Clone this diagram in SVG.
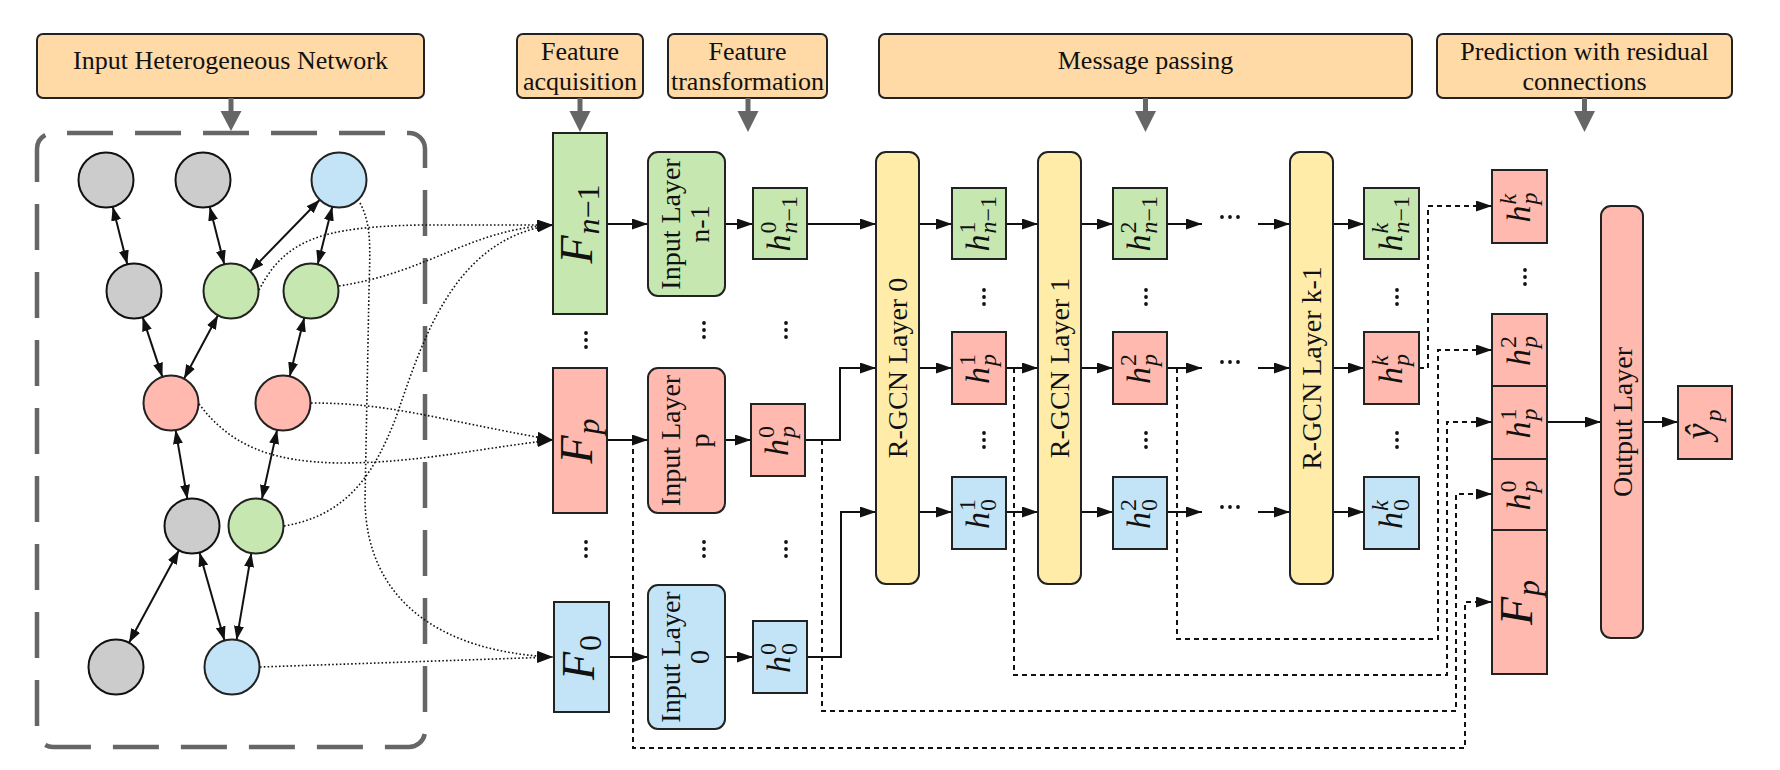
<svg xmlns="http://www.w3.org/2000/svg" width="1780" height="770" viewBox="0 0 1780 770">
<style>
text{font-family:"Liberation Serif","Times New Roman",serif;fill:#111}
.t{font-size:26px;text-anchor:middle}
.r{font-size:28px;text-anchor:middle}
.i{font-style:italic}
.hb{font-style:italic;font-size:34px}
.sc{font-size:24px}
.fb{font-style:italic;font-size:46px}
.fs{font-size:32px}
.title{fill:#FFDAA6;stroke:#222;stroke-width:2}
.gn{fill:#C6E7AF;stroke:#222;stroke-width:2}
.pk{fill:#FFB9AF;stroke:#222;stroke-width:2}
.bl{fill:#C3E4F6;stroke:#222;stroke-width:2}
.ye{fill:#FFECA9;stroke:#222;stroke-width:2}
.gy{fill:#CCCCCC;stroke:#111;stroke-width:2}
.ln{fill:none;stroke:#111;stroke-width:2;marker-end:url(#a)}
.ds{fill:none;stroke:#111;stroke-width:2;stroke-dasharray:5 4}
.dt{fill:none;stroke:#111;stroke-width:1.6;stroke-dasharray:1.6 2.2;marker-end:url(#a)}
.ed{stroke:#111;stroke-width:2;marker-start:url(#s);marker-end:url(#s)}
.ga{fill:#666;stroke:none}
.dot{fill:#111}
</style>
<defs>
<marker id="a" viewBox="0 0 16 11" refX="16" refY="5.5" markerWidth="16" markerHeight="11" markerUnits="userSpaceOnUse" orient="auto"><path d="M0,0L16,5.5L0,11z" fill="#111"/></marker>
<marker id="s" viewBox="0 0 14 10" refX="14" refY="5" markerWidth="14" markerHeight="10" markerUnits="userSpaceOnUse" orient="auto-start-reverse"><path d="M0,0L14,5L0,10z" fill="#111"/></marker>
<g id="vd"><circle cx="0" cy="-7" r="1.9"/><circle cx="0" cy="0" r="1.9"/><circle cx="0" cy="7" r="1.9"/></g>
<g id="hd"><circle cx="-8" cy="0" r="1.9"/><circle cx="0" cy="0" r="1.9"/><circle cx="8" cy="0" r="1.9"/></g>
</defs>

<!-- Title boxes -->
<g id="title-input"><rect class="title" x="37" y="34" width="387" height="64" rx="6"/><text class="t" x="230.5" y="69">Input Heterogeneous Network</text></g>
<g id="title-acq"><rect class="title" x="517" y="34" width="126" height="64" rx="6"/><text class="t" x="580" y="60">Feature</text><text class="t" x="580" y="90">acquisition</text></g>
<g id="title-trans"><rect class="title" x="668" y="34" width="159" height="64" rx="6"/><text class="t" x="747.5" y="60">Feature</text><text class="t" x="747.5" y="90">transformation</text></g>
<g id="title-mp"><rect class="title" x="879" y="34" width="533" height="64" rx="6"/><text class="t" x="1145.5" y="69">Message passing</text></g>
<g id="title-pred"><rect class="title" x="1437" y="34" width="295" height="64" rx="6"/><text class="t" x="1584.5" y="60">Prediction with residual</text><text class="t" x="1584.5" y="90">connections</text></g>

<!-- gray arrows -->
<g id="gray-arrows" class="ga">
<path d="M228.5,98h5v13h8l-10.5,20l-10.5,-20h8z"/>
<path d="M577.5,98h5v13h8l-10.5,21l-10.5,-21h8z"/>
<path d="M745.5,98h5v13h8l-10.5,21l-10.5,-21h8z"/>
<path d="M1143,98h5v13h8l-10.5,21l-10.5,-21h8z"/>
<path d="M1582,98h5v13h8l-10.5,21l-10.5,-21h8z"/>
</g>

<!-- network container -->
<g id="network">
<path d="M37,178V149A16,16 0 0 1 53,133H409A16,16 0 0 1 425,149V731A16,16 0 0 1 409,747H53A16,16 0 0 1 37,731Z" fill="none" stroke="#666" stroke-width="4.5" stroke-dasharray="46 22"/>
<g id="net-edges">
<line class="ed" x1="112.7" y1="206.7" x2="127.3" y2="264.3"/>
<line class="ed" x1="209.7" y1="206.7" x2="224.3" y2="264.3"/>
<line class="ed" x1="319.8" y1="199.7" x2="250.2" y2="271.3"/>
<line class="ed" x1="332.3" y1="206.7" x2="317.7" y2="264.3"/>
<line class="ed" x1="142.6" y1="317.1" x2="162.4" y2="376.9"/>
<line class="ed" x1="218" y1="315.2" x2="184" y2="378.8"/>
<line class="ed" x1="304.3" y1="317.7" x2="289.7" y2="376.3"/>
<line class="ed" x1="175.6" y1="430.1" x2="187.4" y2="498.9"/>
<line class="ed" x1="277.1" y1="429.9" x2="261.9" y2="499.1"/>
<line class="ed" x1="179" y1="550.2" x2="129" y2="642.8"/>
<line class="ed" x1="199.5" y1="552.5" x2="224.5" y2="640.5"/>
<line class="ed" x1="251.4" y1="553.1" x2="236.6" y2="639.9"/>
</g>
<g id="n-g1"><circle class="gy" cx="106" cy="180" r="27.5"/></g>
<g id="n-g2"><circle class="gy" cx="203" cy="180" r="27.5"/></g>
<g id="n-b1"><circle class="bl" cx="339" cy="180" r="27.5"/></g>
<g id="n-g3"><circle class="gy" cx="134" cy="291" r="27.5"/></g>
<g id="n-gr1"><circle class="gn" cx="231" cy="291" r="27.5"/></g>
<g id="n-gr2"><circle class="gn" cx="311" cy="291" r="27.5"/></g>
<g id="n-pk1"><circle class="pk" cx="171" cy="403" r="27.5"/></g>
<g id="n-pk2"><circle class="pk" cx="283" cy="403" r="27.5"/></g>
<g id="n-g4"><circle class="gy" cx="192" cy="526" r="27.5"/></g>
<g id="n-gr3"><circle class="gn" cx="256" cy="526" r="27.5"/></g>
<g id="n-g5"><circle class="gy" cx="116" cy="667" r="27.5"/></g>
<g id="n-b2"><circle class="bl" cx="232" cy="667" r="27.5"/></g>
</g>

<!-- connectors -->
<g id="connectors">
<path class="dt" d="M259,290 C285,240 320,227 420,225 L553,225"/>
<path class="dt" d="M339,286 C430,272 470,229 553,225"/>
<path class="dt" d="M284,526 C350,515 375,470 395,420 C420,350 450,238 553,225"/>
<path class="dt" d="M311,403 C390,403 430,418 553,440"/>
<path class="dt" d="M199,404 C230,445 270,462 340,463 C420,463 480,448 553,440"/>
<path class="dt" d="M360,203 C372,225 370,250 369,290 L365,500 C366,600 440,652 553,657"/>
<path class="dt" d="M260,667 L553,657"/>

<path class="ln" d="M607,224H648"/>
<path class="ln" d="M725,224H753"/>
<path class="ln" d="M807,224H876"/>
<path class="ln" d="M607,440H648"/>
<path class="ln" d="M725,440H751"/>
<path class="ln" d="M805,440H840V368H876"/>
<path class="ln" d="M609,657H648"/>
<path class="ln" d="M725,657H753"/>
<path class="ln" d="M807,657H841V512H876"/>

<path class="ln" d="M919,224H952"/><path class="ln" d="M1006,224H1038"/><path class="ln" d="M1081,224H1113"/><path class="ln" d="M1167,224H1202"/><path class="ln" d="M1258,224H1290"/><path class="ln" d="M1333,224H1364"/>
<path class="ln" d="M919,368H952"/><path class="ln" d="M1006,368H1038"/><path class="ln" d="M1081,368H1113"/><path class="ln" d="M1167,368H1202"/><path class="ln" d="M1258,368H1290"/><path class="ln" d="M1333,368H1364"/>
<path class="ln" d="M919,512H952"/><path class="ln" d="M1006,512H1038"/><path class="ln" d="M1081,512H1113"/><path class="ln" d="M1167,512H1202"/><path class="ln" d="M1258,512H1290"/><path class="ln" d="M1333,512H1364"/>

<path class="ds" d="M633,440V748H1465V602H1476"/><path class="ln" d="M1476,602H1492"/>
<path class="ds" d="M822,440V711H1456V494H1476"/><path class="ln" d="M1476,494H1492"/>
<path class="ds" d="M1014,368V675H1447V422H1476"/><path class="ln" d="M1476,422H1492"/>
<path class="ds" d="M1177,368V639H1438V350H1476"/><path class="ln" d="M1476,350H1492"/>
<path class="ds" d="M1419,368H1428V206H1476"/><path class="ln" d="M1476,206H1492"/>

<path class="ln" d="M1547,422H1601"/>
<path class="ln" d="M1643,422H1678"/>
</g>

<!-- ellipses -->
<g id="ellipses" class="dot">
<use href="#vd" x="586" y="340"/><use href="#vd" x="704" y="330"/><use href="#vd" x="786" y="330"/>
<use href="#vd" x="586" y="549"/><use href="#vd" x="704" y="549"/><use href="#vd" x="786" y="549"/>
<use href="#vd" x="984" y="297"/><use href="#vd" x="984" y="440"/>
<use href="#vd" x="1146" y="297"/><use href="#vd" x="1146" y="440"/>
<use href="#vd" x="1397" y="297"/><use href="#vd" x="1397" y="440"/>
<use href="#vd" x="1525" y="277"/>
<use href="#hd" x="1230" y="217"/><use href="#hd" x="1230" y="362"/><use href="#hd" x="1230" y="507"/>
</g>

<!-- feature boxes -->
<g id="F-n1"><rect class="gn" x="553" y="133" width="54" height="181"/>
<g transform="translate(580,223.5) rotate(-90)"><text class="fb" x="-40" y="12">F</text><text class="fs i" x="-11" y="19">n<tspan font-style="normal">−1</tspan></text></g></g>
<g id="F-p"><rect class="pk" x="553" y="368" width="54" height="145"/>
<g transform="translate(580,440.5) rotate(-90)"><text class="fb" x="-23" y="12">F</text><text class="fs i" x="6" y="19">p</text></g></g>
<g id="F-0"><rect class="bl" x="554" y="602" width="55" height="110"/>
<g transform="translate(581.5,657) rotate(-90)"><text class="fb" x="-23" y="12">F</text><text class="fs" x="6" y="19">0</text></g></g>

<!-- input layers -->
<g id="IL-n1"><rect class="gn" x="648" y="152" width="77" height="144" rx="10"/>
<g transform="translate(686.5,224) rotate(-90)"><text class="r" x="0" y="-7">Input Layer</text><text class="r" x="0" y="22">n-1</text></g></g>
<g id="IL-p"><rect class="pk" x="648" y="368" width="77" height="145" rx="10"/>
<g transform="translate(686.5,440.5) rotate(-90)"><text class="r" x="0" y="-7">Input Layer</text><text class="r" x="0" y="22">p</text></g></g>
<g id="IL-0"><rect class="bl" x="648" y="585" width="77" height="144" rx="10"/>
<g transform="translate(686.5,657) rotate(-90)"><text class="r" x="0" y="-7">Input Layer</text><text class="r" x="0" y="22">0</text></g></g>

<!-- h0 -->
<g id="h0-n1"><rect class="gn" x="753" y="188" width="54" height="71"/>
<g transform="translate(780,223.5) rotate(-90)"><text class="hb" x="-28" y="10">h</text><text class="sc" x="-10" y="-4">0</text><text class="sc i" x="-10" y="17">n<tspan font-style="normal">−1</tspan></text></g></g>
<g id="h0-p"><rect class="pk" x="751" y="404" width="54" height="72"/>
<g transform="translate(778,440) rotate(-90)"><text class="hb" x="-16" y="10">h</text><text class="sc" x="2" y="-4">0</text><text class="sc i" x="2" y="17">p</text></g></g>
<g id="h0-0"><rect class="bl" x="753" y="621" width="54" height="72"/>
<g transform="translate(780,657) rotate(-90)"><text class="hb" x="-16" y="10">h</text><text class="sc" x="2" y="-4">0</text><text class="sc" x="2" y="17">0</text></g></g>

<!-- R-GCN layers -->
<g id="rgcn0"><rect class="ye" x="876" y="152" width="43" height="432" rx="10"/><text class="r" transform="translate(897.5,368) rotate(-90)" y="9.5">R-GCN Layer 0</text></g>
<g id="rgcn1"><rect class="ye" x="1038" y="152" width="43" height="432" rx="10"/><text class="r" transform="translate(1059.5,368) rotate(-90)" y="9.5">R-GCN Layer 1</text></g>
<g id="rgcnk"><rect class="ye" x="1290" y="152" width="43" height="432" rx="10"/><text class="r" transform="translate(1311.5,368) rotate(-90)" y="9.5">R-GCN Layer k-1</text></g>

<!-- h1 -->
<g id="h1-n1"><rect class="gn" x="952" y="188" width="54" height="71"/>
<g transform="translate(979,223.5) rotate(-90)"><text class="hb" x="-28" y="10">h</text><text class="sc" x="-10" y="-4">1</text><text class="sc i" x="-10" y="17">n<tspan font-style="normal">−1</tspan></text></g></g>
<g id="h1-p"><rect class="pk" x="952" y="332" width="54" height="72"/>
<g transform="translate(979,368) rotate(-90)"><text class="hb" x="-16" y="10">h</text><text class="sc" x="2" y="-4">1</text><text class="sc i" x="2" y="17">p</text></g></g>
<g id="h1-0"><rect class="bl" x="952" y="477" width="54" height="72"/>
<g transform="translate(979,513) rotate(-90)"><text class="hb" x="-16" y="10">h</text><text class="sc" x="2" y="-4">1</text><text class="sc" x="2" y="17">0</text></g></g>

<!-- h2 -->
<g id="h2-n1"><rect class="gn" x="1113" y="188" width="54" height="71"/>
<g transform="translate(1140,223.5) rotate(-90)"><text class="hb" x="-28" y="10">h</text><text class="sc" x="-10" y="-4">2</text><text class="sc i" x="-10" y="17">n<tspan font-style="normal">−1</tspan></text></g></g>
<g id="h2-p"><rect class="pk" x="1113" y="332" width="54" height="72"/>
<g transform="translate(1140,368) rotate(-90)"><text class="hb" x="-16" y="10">h</text><text class="sc" x="2" y="-4">2</text><text class="sc i" x="2" y="17">p</text></g></g>
<g id="h2-0"><rect class="bl" x="1113" y="477" width="54" height="72"/>
<g transform="translate(1140,513) rotate(-90)"><text class="hb" x="-16" y="10">h</text><text class="sc" x="2" y="-4">2</text><text class="sc" x="2" y="17">0</text></g></g>

<!-- hk -->
<g id="hk-n1"><rect class="gn" x="1364" y="188" width="55" height="71"/>
<g transform="translate(1391.5,223.5) rotate(-90)"><text class="hb" x="-28" y="10">h</text><text class="sc i" x="-10" y="-4">k</text><text class="sc i" x="-10" y="17">n<tspan font-style="normal">−1</tspan></text></g></g>
<g id="hk-p"><rect class="pk" x="1364" y="332" width="55" height="72"/>
<g transform="translate(1391.5,368) rotate(-90)"><text class="hb" x="-16" y="10">h</text><text class="sc i" x="2" y="-4">k</text><text class="sc i" x="2" y="17">p</text></g></g>
<g id="hk-0"><rect class="bl" x="1364" y="477" width="55" height="72"/>
<g transform="translate(1391.5,513) rotate(-90)"><text class="hb" x="-16" y="10">h</text><text class="sc i" x="2" y="-4">k</text><text class="sc" x="2" y="17">0</text></g></g>

<!-- residual stack -->
<g id="s-hk"><rect class="pk" x="1492" y="170" width="55" height="73"/>
<g transform="translate(1519.5,206.5) rotate(-90)"><text class="hb" x="-16" y="10">h</text><text class="sc i" x="2" y="-4">k</text><text class="sc i" x="2" y="17">p</text></g></g>
<g id="s-h2"><rect class="pk" x="1492" y="314" width="55" height="72"/>
<g transform="translate(1519.5,350) rotate(-90)"><text class="hb" x="-16" y="10">h</text><text class="sc" x="2" y="-4">2</text><text class="sc i" x="2" y="17">p</text></g></g>
<g id="s-h1"><rect class="pk" x="1492" y="386" width="55" height="73"/>
<g transform="translate(1519.5,422.5) rotate(-90)"><text class="hb" x="-16" y="10">h</text><text class="sc" x="2" y="-4">1</text><text class="sc i" x="2" y="17">p</text></g></g>
<g id="s-h0"><rect class="pk" x="1492" y="459" width="55" height="71"/>
<g transform="translate(1519.5,494.5) rotate(-90)"><text class="hb" x="-16" y="10">h</text><text class="sc" x="2" y="-4">0</text><text class="sc i" x="2" y="17">p</text></g></g>
<g id="s-Fp"><rect class="pk" x="1492" y="530" width="55" height="144"/>
<g transform="translate(1519.5,602) rotate(-90)"><text class="fb" x="-23" y="12">F</text><text class="fs i" x="6" y="19">p</text></g></g>

<!-- output -->
<g id="output-layer"><rect class="pk" x="1601" y="206" width="42" height="432" rx="10"/><text class="r" transform="translate(1622,422) rotate(-90)" y="9.5">Output Layer</text></g>
<g id="yhat"><rect class="pk" x="1678" y="386" width="54" height="73"/>
<g transform="translate(1705,422.5) rotate(-90)"><text class="i" x="-17" y="5" font-size="36">ŷ</text><text class="sc i" x="1" y="16">p</text></g></g>
</svg>
